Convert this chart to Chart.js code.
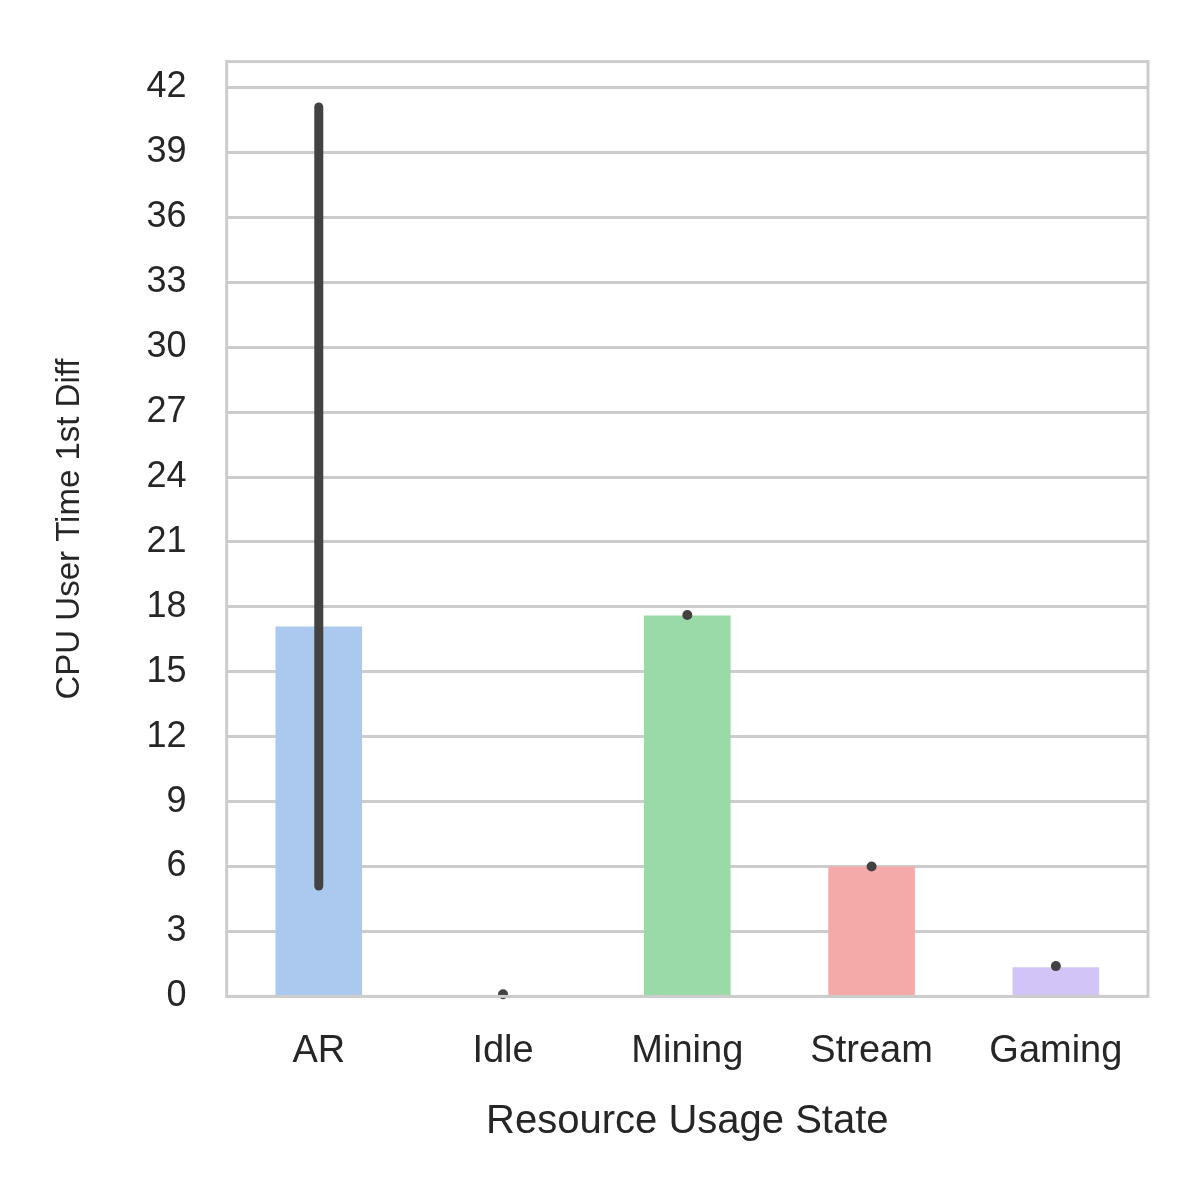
<!DOCTYPE html>
<html><head>
<script src="https://cdn.jsdelivr.net/npm/chart.js@4"></script>
<style>body{margin:0;background:#fff}#wrap{width:1200px;height:1200px}</style>
</head><body><div id="wrap"><canvas id="c"></canvas></div>
<script>
const categories = ['AR', 'Idle', 'Mining', 'Stream', 'Gaming'];
const means      = [17.1, 0.05, 17.6, 6.0, 1.35];
const errLow     = [5.1, 0.1, 17.55, 5.95, 1.35];
const errHigh    = [41.1, 0.1, 17.7, 6.05, 1.45];
const barColors  = ['#abc9ee', '#ffc9a6', '#9ad9a8', '#f4aaa8', '#d3c4f8'];

const errorBars = {
  id: 'errorBars',
  afterDatasetsDraw(chart) {
    const {ctx, scales: {x, y}} = chart;
    ctx.save();
    ctx.strokeStyle = '#424242';
    ctx.fillStyle = '#424242';
    ctx.lineWidth = 9;
    ctx.lineCap = 'round';
    categories.forEach((c, i) => {
      const px = x.getPixelForValue(i);
      const y1 = y.getPixelForValue(errLow[i]), y2 = y.getPixelForValue(errHigh[i]);
      if (Math.abs(y1 - y2) < 8) {
        ctx.beginPath(); ctx.arc(px, (y1 + y2) / 2, 5, 0, Math.PI * 2); ctx.fill();
      } else {
        ctx.beginPath(); ctx.moveTo(px, y1); ctx.lineTo(px, y2); ctx.stroke();
      }
    });
    ctx.restore();
  }
};

const frame = {
  id: 'frame',
  afterDraw(chart) {
    const {ctx, chartArea: a} = chart;
    ctx.save();
    ctx.strokeStyle = '#cccccc';
    ctx.lineWidth = 3;
    ctx.strokeRect(a.left, a.top, a.right - a.left, a.bottom - a.top);
    ctx.restore();
  }
};

new Chart(document.getElementById('c'), {
  type: 'bar',
  data: {
    labels: categories,
    datasets: [{ data: means, backgroundColor: barColors, barPercentage: 0.47, categoryPercentage: 1 }]
  },
  options: {
    responsive: true, maintainAspectRatio: false, animation: false,
    layout: { padding: { top: 52, right: 52, left: 46, bottom: 50 } },
    plugins: { legend: { display: false }, tooltip: { enabled: false } },
    scales: {
      x: {
        grid: { display: false },
        border: { display: false },
        ticks: { color: '#262626', font: { family: 'Arial, Liberation Sans', size: 38 }, padding: 24 },
        title: { display: true, text: 'Resource Usage State', color: '#262626', font: { family: 'Arial, Liberation Sans', size: 40 }, padding: { top: 0 } }
      },
      y: {
        min: 0, max: 43.2,
        afterBuildTicks(s) { s.ticks = []; for (let v = 0; v <= 42; v += 3) s.ticks.push({ value: v }); },
        grid: { color: '#cccccc', lineWidth: 3, tickLength: 0 },
        border: { display: false },
        ticks: { color: '#262626', font: { family: 'Arial, Liberation Sans', size: 36 }, padding: 40 },
        title: { display: true, text: 'CPU User Time 1st Diff', color: '#262626', font: { family: 'Arial, Liberation Sans', size: 33 }, padding: { bottom: 17 } }
      }
    }
  },
  plugins: [errorBars, frame]
});
</script></body></html>
